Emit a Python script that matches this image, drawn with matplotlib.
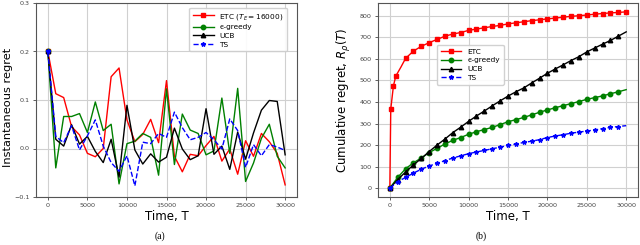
import matplotlib
matplotlib.use("Agg")
import matplotlib.pyplot as plt
import numpy as np

# ---------------- data: panel (a) instantaneous regret ----------------
t_inst = list(range(0, 30001, 1000))
etc_inst = [0.200, 0.113, 0.105, 0.045, 0.028, -0.010, -0.017, 0.000, 0.148, 0.166,
            0.059, 0.014, 0.029, 0.060, 0.012, 0.140, -0.016, -0.048, -0.012, -0.015,
            0.006, 0.025, -0.026, -0.001, -0.053, 0.016, -0.016, 0.031, 0.014, -0.010,
            -0.075]
eps_inst = [0.200, -0.040, 0.066, 0.066, 0.072, 0.033, 0.096, 0.037, 0.050, -0.073,
            0.010, 0.015, 0.031, 0.023, -0.055, 0.123, -0.033, 0.071, 0.038, 0.031,
            -0.013, -0.005, 0.104, -0.010, 0.124, -0.068, -0.030, 0.021, 0.050, -0.016,
            -0.040]
ucb_inst = [0.200, 0.019, 0.005, 0.049, 0.009, 0.025, -0.006, -0.029, 0.019, -0.059,
            0.089, -0.003, -0.032, -0.011, -0.028, -0.018, 0.042, -0.001, -0.023, -0.015,
            0.082, -0.012, 0.005, -0.043, 0.034, -0.022, 0.032, 0.079, 0.099, 0.097,
            -0.013]
ts_inst = [0.200, 0.025, 0.012, 0.047, -0.003, 0.026, 0.059, 0.005, -0.029, -0.047,
           -0.015, -0.077, 0.013, 0.010, 0.031, 0.023, 0.075, 0.043, 0.018, 0.023,
           0.033, 0.018, -0.001, 0.061, 0.037, -0.039, 0.008, -0.015, 0.008, 0.003,
           -0.004]

# ---------------- data: panel (b) cumulative regret ----------------
t_etc = [0, 120, 460, 760, 1430] + list(range(2000, 30001, 1000))
etc_cum = [0, 367, 475, 520, 563, 602, 636, 658, 675, 690, 705, 715, 722, 732, 738,
           744, 750, 755, 762, 767, 772, 777, 781, 785, 789, 793, 797, 800, 803, 807,
           810, 813, 815, 818]
t_cum = list(range(0, 30001, 1000))
eps_cum = [0, 50, 90, 118, 140, 165, 185, 205, 222, 235, 250, 262, 272, 282, 295, 308,
           318, 328, 340, 352, 363, 373, 383, 392, 402, 412, 420, 428, 438, 447, 457]
ucb_cum = [0, 40, 75, 108, 138, 170, 200, 228, 258, 283, 310, 335, 358, 382, 405, 427,
           447, 465, 488, 510, 533, 553, 572, 592, 610, 632, 650, 668, 685, 705, 725]
ts_cum = [0, 30, 50, 70, 88, 103, 115, 128, 140, 150, 160, 168, 175, 183, 190, 198,
          205, 212, 218, 225, 235, 242, 248, 255, 260, 265, 270, 276, 282, 286, 290]

xticks = [0, 5000, 10000, 15000, 20000, 25000, 30000]
yticks_a = [-0.1, 0.0, 0.1, 0.2, 0.3]
yticks_b = [0, 100, 200, 300, 400, 500, 600, 700, 800]

# ---------------- figure ----------------
fig = plt.figure(figsize=(6.4, 2.45), dpi=100)
W, H = 640, 245
axA = fig.add_axes([36 / W, 1 - 197 / H, (297 - 36) / W, (197 - 3) / H])
axB = fig.add_axes([378 / W, 1 - 197 / H, (638 - 378) / W, (197 - 3) / H])

tick_fs = 4.6
lab_fs = 8.5

for ax in (axA, axB):
    ax.grid(True, color="#d0d0d0", linewidth=0.8)
    ax.set_axisbelow(True)
    for sp in ax.spines.values():
        sp.set_color("#555555")
        sp.set_linewidth(0.8)
    ax.tick_params(labelsize=tick_fs, length=2.5, width=0.6, colors="#444444",
                   pad=2)
    ax.set_xticks(xticks)
    ax.set_xlabel("Time, T", fontsize=lab_fs, labelpad=1)

# panel (a)
ms = 3.2
axA.plot(t_inst, etc_inst, color="red", marker="s", markersize=ms, markevery=[0],
         linewidth=1.0, label=r"ETC ($T_E = 16000$)")
axA.plot(t_inst, eps_inst, color="green", marker="o", markersize=ms, markevery=[0],
         linewidth=1.0, label="\u03f5-greedy")
axA.plot(t_inst, ucb_inst, color="black", marker="^", markersize=ms, markevery=[0],
         linewidth=1.0, label="UCB")
axA.plot(t_inst, ts_inst, color="blue", marker="*", markersize=ms, markevery=[0],
         linewidth=1.0, linestyle="--", label="TS")
axA.set_ylim(-0.1, 0.3)
axA.set_yticks(yticks_a)
axA.set_ylabel("Instantaneous regret", fontsize=8.2)
axA.yaxis.set_label_coords(-0.090, 0.46)
axA.legend(loc="upper right", bbox_to_anchor=(0.963, 0.975), borderaxespad=0,
           fontsize=5.3, handlelength=2.8, framealpha=0.9, edgecolor="#cccccc",
           labelspacing=0.35, borderpad=0.5)

# panel (b)
etc_marks = [i for i in range(len(t_etc)) if i != 4]
axB.plot(t_etc, etc_cum, color="red", marker="s", markersize=ms, markevery=etc_marks,
         linewidth=1.0, label="ETC")
axB.plot(t_cum, eps_cum, color="green", marker="o", markersize=ms, markevery=slice(0, 30),
         linewidth=1.0, label="\u03f5-greedy")
axB.plot(t_cum, ucb_cum, color="black", marker="^", markersize=ms, markevery=slice(0, 30),
         linewidth=1.0, label="UCB")
axB.plot(t_cum, ts_cum, color="blue", marker="*", markersize=ms, markevery=slice(0, 30),
         linewidth=1.0, linestyle="--", label="TS")
axB.set_yticks(yticks_b)
axB.set_ylabel(r"Cumulative regret, $R_\rho(T)$", fontsize=lab_fs)
axB.yaxis.set_label_coords(-0.096, 0.5)
axB.legend(loc="upper left", bbox_to_anchor=(0.227, 0.784), borderaxespad=0,
           fontsize=5.3, handlelength=2.8, framealpha=0.9, edgecolor="#cccccc",
           labelspacing=0.35, borderpad=0.5)

fig.text(160 / W, 1 - 236 / H, "(a)", ha="center", va="center", fontsize=7,
         family="Liberation Serif")
fig.text(481 / W, 1 - 236 / H, "(b)", ha="center", va="center", fontsize=7,
         family="Liberation Serif")

fig.savefig("out.png", dpi=100)
